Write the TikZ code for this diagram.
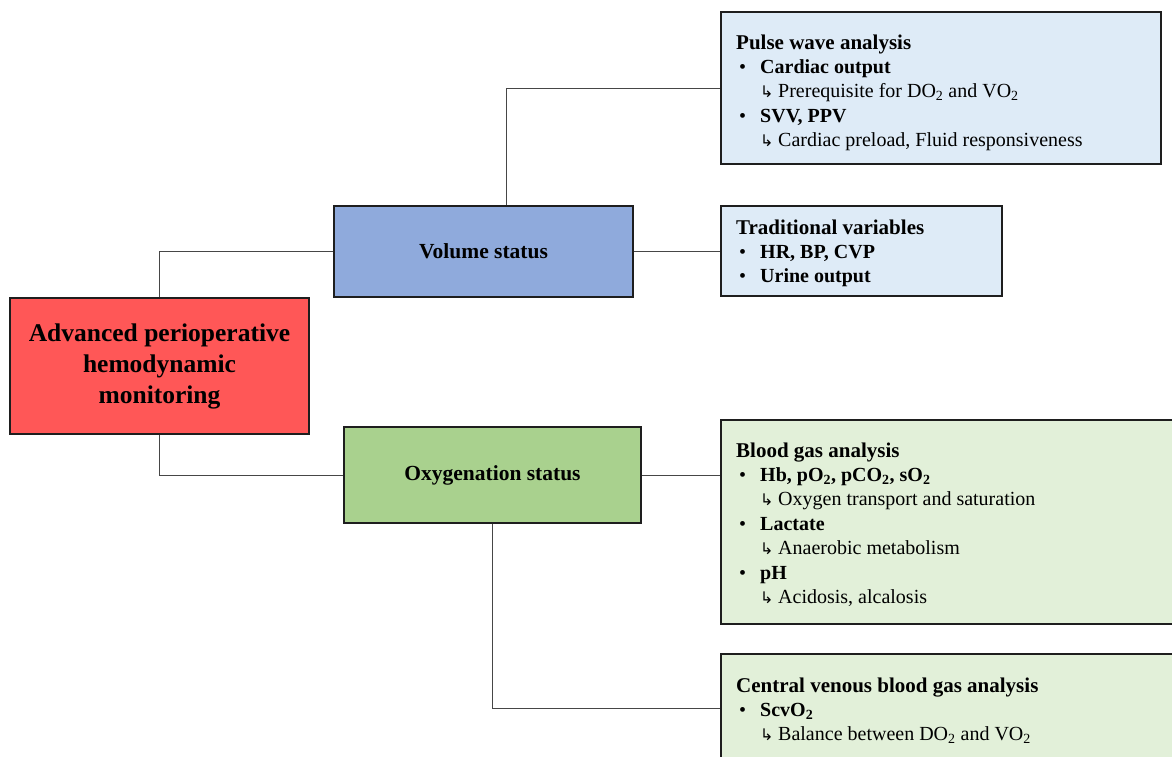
\documentclass[tikz,border=0pt]{standalone}
\usepackage{fontspec}
\setmainfont{Liberation Serif}
\newfontfamily\dejavu{DejaVu Sans}
\definecolor{mainred}{RGB}{255,87,87}
\definecolor{volblue}{RGB}{143,170,220}
\definecolor{oxygreen}{RGB}{169,209,142}
\definecolor{lightblue}{RGB}{222,235,247}
\definecolor{lightgreen}{RGB}{226,240,217}
\definecolor{edge}{RGB}{30,30,30}
\definecolor{wire}{RGB}{70,70,70}
\newcommand{\hookarr}{\makebox[18pt][l]{\dejavu\fontsize{16}{16}\selectfont ↳}}
\newcommand{\bul}{\makebox[24pt][l]{\hspace{3pt}•}}
\begin{document}
\begin{tikzpicture}[x=1pt,y=-1pt,
  box/.style={draw=edge, line width=1.3pt, rectangle, inner sep=0pt},
  conn/.style={draw=wire, line width=1pt},
  txt/.style={anchor=base west, inner sep=0pt, font=\fontsize{20}{24.4}\selectfont},
  head/.style={font=\bfseries\fontsize{21.5}{24}\selectfont, align=center}]
\useasboundingbox (0,0) rectangle (1172,756);
\clip (0,0) rectangle (1172,756);

% boxes
\node[box, fill=mainred, minimum width=299pt, minimum height=136pt, align=center,
      font=\bfseries\fontsize{25.5}{31}\selectfont] (main) at (159.5,366)
      {Advanced perioperative\\hemodynamic\\monitoring};
\node[box, fill=volblue, minimum width=299pt, minimum height=91pt, head] (vol) at (483.5,251.5) {Volume status};
\node[box, fill=oxygreen, minimum width=297pt, minimum height=96pt, head] (oxy) at (492.5,475) {Oxygenation status};
\node[box, fill=lightblue, minimum width=440pt, minimum height=152pt] (pulse) at (941,88) {};
\node[box, fill=lightblue, minimum width=281pt, minimum height=90pt] (trad) at (861.5,251) {};
\node[box, fill=lightgreen, minimum width=464pt, minimum height=204pt] (blood) at (953,522) {};
\node[box, fill=lightgreen, minimum width=464pt, minimum height=108pt] (cv) at (953,708) {};

% connectors
\draw[conn] (main.north) |- (vol.west);
\draw[conn] (main.south) |- (oxy.west);
\draw[conn] ([xshift=22.5pt]vol.north) |- (pulse.west);
\draw[conn] (vol.east) -- (vol.east -| trad.west);
\draw[conn] (oxy.east) -- (oxy.east -| blood.west);
\draw[conn] (oxy.south) |- (cv.west);

% box contents
\node[txt] (tpulse) at (736,49) {\begin{tabular}[t]{@{}l@{}}
{\bfseries\fontsize{21}{24.4}\selectfont Pulse wave analysis}\\
\bul\textbf{Cardiac output}\\
\hspace*{24pt}\hookarr Prerequisite for DO\textsubscript{2} and VO\textsubscript{2}\\
\bul\textbf{SVV, PPV}\\
\hspace*{24pt}\hookarr Cardiac preload, Fluid responsiveness
\end{tabular}};

\node[txt] (ttrad) at (736,234) {\begin{tabular}[t]{@{}l@{}}
{\bfseries\fontsize{21}{24.4}\selectfont Traditional variables}\\
\bul\textbf{HR, BP, CVP}\\
\bul\textbf{Urine output}
\end{tabular}};

\node[txt] (tblood) at (736,457) {\begin{tabular}[t]{@{}l@{}}
{\bfseries\fontsize{21}{24.4}\selectfont Blood gas analysis}\\
\bul\textbf{Hb, pO\textsubscript{2}, pCO\textsubscript{2}, sO\textsubscript{2}}\\
\hspace*{24pt}\hookarr Oxygen transport and saturation\\
\bul\textbf{Lactate}\\
\hspace*{24pt}\hookarr Anaerobic metabolism\\
\bul\textbf{pH}\\
\hspace*{24pt}\hookarr Acidosis, alcalosis
\end{tabular}};

\node[txt] (tcv) at (736,692) {\begin{tabular}[t]{@{}l@{}}
{\bfseries\fontsize{21}{24.4}\selectfont Central venous blood gas analysis}\\
\bul\textbf{ScvO\textsubscript{2}}\\
\hspace*{24pt}\hookarr Balance between DO\textsubscript{2} and VO\textsubscript{2}
\end{tabular}};
\end{tikzpicture}
\end{document}
